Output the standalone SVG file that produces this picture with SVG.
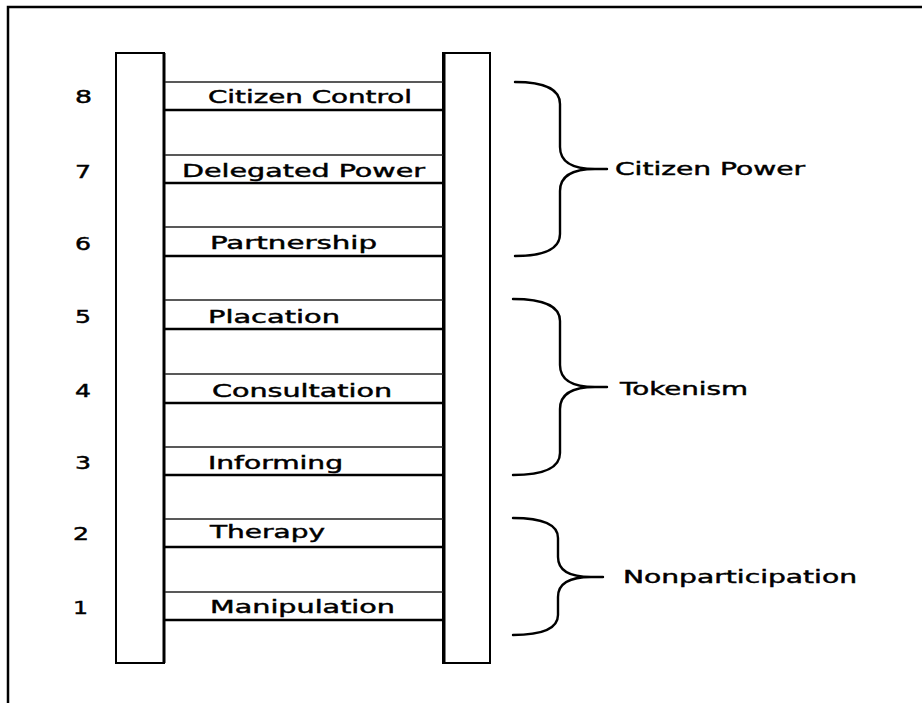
<svg xmlns="http://www.w3.org/2000/svg" width="922" height="703" viewBox="0 0 922 703">
  <style>
    .frame { fill: none; stroke: #000; stroke-width: 2.5; }
    .rail { fill: #fff; stroke: #000; stroke-width: 2; }
    .rail-edge { stroke: #000; stroke-width: 3; }
    .rung-top { stroke: #222; stroke-width: 1.6; }
    .rung-bot { stroke: #000; stroke-width: 2.6; }
    .brace { fill: none; stroke: #000; stroke-width: 2.4; stroke-linecap: round; stroke-linejoin: round; }
    text { font-family: "DejaVu Sans", "Liberation Sans", sans-serif; font-size: 18px; fill: #000; stroke: #000; stroke-width: 0.45; }
  </style>

  <rect width="922" height="703" fill="#fff"/>

  <!-- page frame: top and left edges -->
  <path class="frame" d="M8,703 L8,7 L922,7"/>

  <!-- ladder rails -->
  <g id="rails">
    <rect class="rail" x="116" y="53" width="48" height="610"/>
    <rect class="rail" x="443" y="53" width="47" height="610"/>
    <line class="rail-edge" x1="444" y1="53" x2="444" y2="663"/>
    <line class="rail-edge" x1="164" y1="53" x2="164" y2="663"/>
  </g>

  <!-- rungs, top (8) to bottom (1) -->
  <g id="rung-8">
    <line class="rung-top" x1="165" y1="82" x2="443" y2="82"/>
    <line class="rung-bot" x1="165" y1="110" x2="443" y2="110"/>
    <text x="75" y="103" textLength="17" lengthAdjust="spacingAndGlyphs">8</text>
    <text x="208" y="103" textLength="204" lengthAdjust="spacingAndGlyphs">Citizen Control</text>
  </g>
  <g id="rung-7">
    <line class="rung-top" x1="165" y1="155" x2="443" y2="155"/>
    <line class="rung-bot" x1="165" y1="183" x2="443" y2="183"/>
    <text x="75" y="178" textLength="16" lengthAdjust="spacingAndGlyphs">7</text>
    <text x="182" y="177" textLength="243" lengthAdjust="spacingAndGlyphs">Delegated Power</text>
  </g>
  <g id="rung-6">
    <line class="rung-top" x1="165" y1="227" x2="443" y2="227"/>
    <line class="rung-bot" x1="165" y1="256" x2="443" y2="256"/>
    <text x="75" y="250" textLength="16" lengthAdjust="spacingAndGlyphs">6</text>
    <text x="210" y="249" textLength="167" lengthAdjust="spacingAndGlyphs">Partnership</text>
  </g>
  <g id="rung-5">
    <line class="rung-top" x1="165" y1="300" x2="443" y2="300"/>
    <line class="rung-bot" x1="165" y1="329" x2="443" y2="329"/>
    <text x="75" y="323" textLength="16" lengthAdjust="spacingAndGlyphs">5</text>
    <text x="208" y="323" textLength="132" lengthAdjust="spacingAndGlyphs">Placation</text>
  </g>
  <g id="rung-4">
    <line class="rung-top" x1="165" y1="374" x2="443" y2="374"/>
    <line class="rung-bot" x1="165" y1="403" x2="443" y2="403"/>
    <text x="75" y="397" textLength="16" lengthAdjust="spacingAndGlyphs">4</text>
    <text x="212" y="397" textLength="180" lengthAdjust="spacingAndGlyphs">Consultation</text>
  </g>
  <g id="rung-3">
    <line class="rung-top" x1="165" y1="447" x2="443" y2="447"/>
    <line class="rung-bot" x1="165" y1="475" x2="443" y2="475"/>
    <text x="75" y="469" textLength="16" lengthAdjust="spacingAndGlyphs">3</text>
    <text x="208" y="469" textLength="135" lengthAdjust="spacingAndGlyphs">Informing</text>
  </g>
  <g id="rung-2">
    <line class="rung-top" x1="165" y1="519" x2="443" y2="519"/>
    <line class="rung-bot" x1="165" y1="547" x2="443" y2="547"/>
    <text x="73" y="540" textLength="16" lengthAdjust="spacingAndGlyphs">2</text>
    <text x="210" y="538" textLength="115" lengthAdjust="spacingAndGlyphs">Therapy</text>
  </g>
  <g id="rung-1">
    <line class="rung-top" x1="165" y1="592" x2="443" y2="592"/>
    <line class="rung-bot" x1="165" y1="620" x2="443" y2="620"/>
    <text x="73" y="614" textLength="15" lengthAdjust="spacingAndGlyphs">1</text>
    <text x="210" y="613" textLength="185" lengthAdjust="spacingAndGlyphs">Manipulation</text>
  </g>

  <!-- grouping braces -->
  <g id="connectors">
    <path class="brace" d="M515,82 Q560,82 560,104 L560,147 Q560,169 595,169 L607,169 M595,169 Q560,169 560,191 L560,234 Q560,256 515,256"/>
    <path class="brace" d="M513,299 Q560,299 560,321 L560,365 Q560,387 595,387 L607,387 M595,387 Q560,387 560,409 L560,453 Q560,475 513,475"/>
    <path class="brace" d="M513,518 Q558,518 558,538 L558,557 Q558,577 591,577 L603,577 M591,577 Q558,577 558,597 L558,615 Q558,635 513,635"/>
  </g>

  <g id="group-citizen-power">
    <text x="615" y="175" textLength="190" lengthAdjust="spacingAndGlyphs">Citizen Power</text>
  </g>
  <g id="group-tokenism">
    <text x="620" y="395" textLength="128" lengthAdjust="spacingAndGlyphs">Tokenism</text>
  </g>
  <g id="group-nonparticipation">
    <text x="623" y="583" textLength="234" lengthAdjust="spacingAndGlyphs">Nonparticipation</text>
  </g>
</svg>
